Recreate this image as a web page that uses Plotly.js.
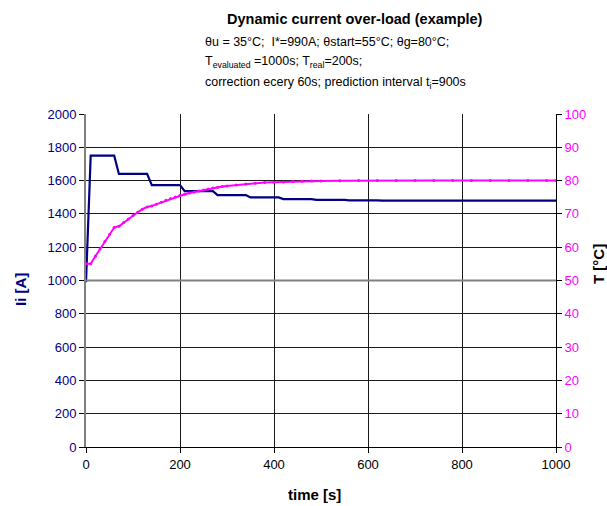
<!DOCTYPE html>
<html>
<head>
<meta charset="utf-8">
<script src="https://cdn.plot.ly/plotly-3.0.1.min.js"></script>
<style>html,body{margin:0;padding:0;background:#fff;}#chart{width:607px;height:506px;}</style>
</head>
<body>
<div id="chart"></div>
<script>
// Current Ii [A] (left axis)
const currentTime = [0, 10, 60, 70, 130, 140, 200, 210, 270, 280, 340, 350, 410, 420, 480, 490, 550, 560, 620, 630, 1000];
const currentValues = [990, 1750, 1750, 1640, 1640, 1573, 1573, 1537, 1537, 1513, 1513, 1499, 1499, 1489, 1489, 1484, 1484, 1481, 1481, 1480, 1480];

// Temperature T [°C] (right axis)
const tempTime = [0, 10, 20, 30, 40, 50, 60, 70, 80, 90, 100, 110, 120, 130, 140, 150, 160, 170, 180, 190, 200,
  210, 220, 230, 240, 250, 260, 270, 280, 290, 300, 320, 340, 360, 380, 400, 420, 440, 460, 480, 500,
  540, 580, 620, 660, 700, 740, 780, 820, 860, 900, 940, 980, 1000];
const tempValues = [55, 55, 57.3, 59.5, 61.7, 63.8, 65.9, 66.3, 67.4, 68.5, 69.5, 70.5, 71.4, 72.1, 72.4, 72.9, 73.5, 74.1, 74.6, 75.1, 75.6,
  75.9, 76.3, 76.6, 76.9, 77.2, 77.5, 77.8, 78.0, 78.2, 78.4, 78.7, 79.0, 79.2, 79.4, 79.5, 79.6, 79.7, 79.8, 79.85, 79.9,
  79.95, 80, 80, 80, 80, 80, 80, 80, 80, 80, 80, 80, 80];

const xTicks = [0, 200, 400, 600, 800, 1000];
const yTicks = [0, 200, 400, 600, 800, 1000, 1200, 1400, 1600, 1800, 2000];
const y2Ticks = [0, 10, 20, 30, 40, 50, 60, 70, 80, 90, 100];

const NAVY = '#000080';
const MAG = '#FF00FF';
const FONT = 'Liberation Sans, Arial, sans-serif';

const traces = [
  {x: currentTime, y: currentValues, type: 'scatter', mode: 'lines',
   line: {color: NAVY, width: 2.2}, yaxis: 'y', hoverinfo: 'skip'},
  {x: tempTime, y: tempValues, type: 'scatter', mode: 'lines+markers',
   line: {color: MAG, width: 2}, marker: {color: MAG, size: 3, symbol: 'circle'}, yaxis: 'y2', hoverinfo: 'skip'}
];

// plot area: x 86..556, y 114..447
const L = 86, R = 556, T = 114, B = 447;
const px = v => (v - L) / (R - L);
const py = v => (B - v) / (B - T);

const layout = {
  width: 607, height: 506,
  margin: {l: L, r: 607 - R, t: T, b: 506 - B, pad: 0},
  paper_bgcolor: '#fff', plot_bgcolor: '#fff',
  showlegend: false,
  font: {family: FONT, size: 13, color: '#000'},
  xaxis: {
    range: [0, 1000], tickvals: xTicks, ticktext: xTicks.map(String),
    showgrid: true, gridcolor: '#1a1a1a', gridwidth: 1,
    showline: true, linecolor: '#000', linewidth: 1,
    ticks: 'outside', ticklen: 5, tickcolor: '#000',
    tickfont: {family: FONT, size: 13, color: '#000'},
    zeroline: false, fixedrange: true
  },
  yaxis: {
    range: [0, 2000], tickvals: yTicks, ticktext: yTicks.map(String),
    showgrid: true, gridcolor: '#1a1a1a', gridwidth: 1,
    showline: true, linecolor: '#808080', linewidth: 2,
    ticks: 'outside', ticklen: 5, tickcolor: '#000',
    tickfont: {family: FONT, size: 13, color: NAVY},
    zeroline: false, fixedrange: true
  },
  yaxis2: {
    range: [0, 100], tickvals: y2Ticks, ticktext: y2Ticks.map(String),
    overlaying: 'y', side: 'right', showgrid: false,
    showline: true, linecolor: '#000', linewidth: 1,
    ticks: 'outside', ticklen: 5, tickcolor: '#000',
    tickfont: {family: FONT, size: 13, color: MAG},
    zeroline: false, fixedrange: true
  },
  shapes: [
    {type: 'line', xref: 'paper', yref: 'y', x0: 0, x1: 1, y0: 1000, y1: 1000,
     line: {color: '#808080', width: 2}, layer: 'above'}
  ],
  annotations: [
    {xref: 'paper', yref: 'paper', x: px(355), y: py(19), xanchor: 'center', yanchor: 'middle',
     text: '<b>Dynamic current over-load (example)</b>', showarrow: false,
     font: {family: FONT, size: 14.5, color: '#000'}},
    {xref: 'paper', yref: 'paper', x: px(203), y: py(42), xanchor: 'left', yanchor: 'middle',
     text: 'θu = 35°C;  I*=990A; θstart=55°C; θg=80°C;', showarrow: false,
     font: {family: FONT, size: 12.5, color: '#000'}},
    {xref: 'paper', yref: 'paper', x: px(203), y: py(62), xanchor: 'left', yanchor: 'middle',
     text: 'T<sub>evaluated</sub> =1000s; T<sub>real</sub>=200s;', showarrow: false,
     font: {family: FONT, size: 12.5, color: '#000'}},
    {xref: 'paper', yref: 'paper', x: px(203), y: py(83), xanchor: 'left', yanchor: 'middle',
     text: 'correction ecery 60s; prediction interval t<sub>i</sub>=900s', showarrow: false,
     font: {family: FONT, size: 12.5, color: '#000'}},
    {xref: 'paper', yref: 'paper', x: px(20), y: py(290), xanchor: 'center', yanchor: 'middle',
     text: '<b>Ii [A]</b>', textangle: -90, showarrow: false,
     font: {family: FONT, size: 15, color: NAVY}},
    {xref: 'paper', yref: 'paper', x: px(598), y: py(264), xanchor: 'center', yanchor: 'middle',
     text: '<b>T [°C]</b>', textangle: -90, showarrow: false,
     font: {family: FONT, size: 15, color: '#000'}},
    {xref: 'paper', yref: 'paper', x: px(314), y: py(494), xanchor: 'center', yanchor: 'middle',
     text: '<b>time [s]</b>', showarrow: false,
     font: {family: FONT, size: 15, color: '#000'}}
  ]
};

Plotly.newPlot('chart', traces, layout, {staticPlot: true, displayModeBar: false});
</script>
</body>
</html>
